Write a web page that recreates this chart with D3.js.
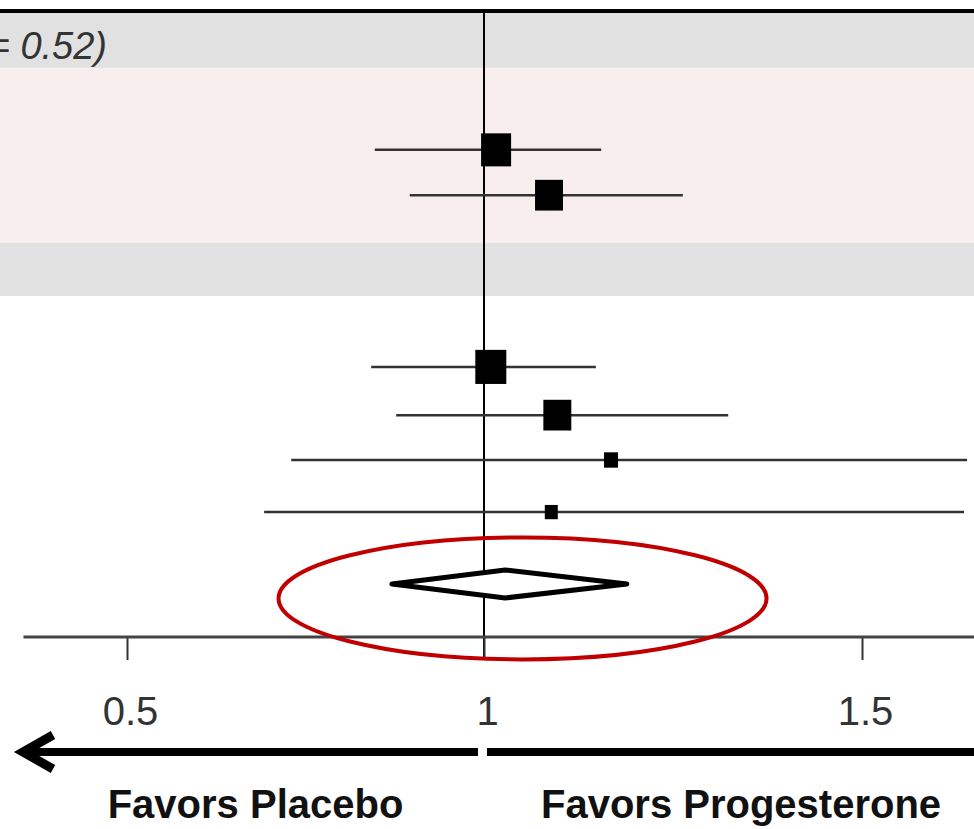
<!DOCTYPE html>
<html>
<head>
<meta charset="utf-8">
<script src="https://cdn.jsdelivr.net/npm/d3@7"></script>
<style>
  html, body { margin: 0; padding: 0; background: #fff; }
  svg { display: block; }
</style>
</head>
<body>
<svg id="chart"></svg>
<script>
const width = 974
const height = 829

// study rows (risk ratio + 95% CI)
const estimates = [1.016, 1.086, 1.009, 1.097, 1.168, 1.089]
const lower = [0.847, 0.896, 0.842, 0.877, 0.730, 0.692]
const upper = [1.155, 1.263, 1.148, 1.323, 1.639, 1.635]
const weights = [30, 26, 32, 26, 6.5, 5.6]
const rowPos = [2.9, 3.84, 7.4, 8.4, 9.33, 10.41]

// pooled estimate (diamond)
const pooled = { est: 1.028, lo: 0.871, hi: 1.189, row: 11.9 }

// shaded group bands, in row units
const bands = [
  { from: 0.06, to: 1.2, fill: "#e1e1e1" },
  { from: 1.2, to: 4.83, fill: "#f9eeee" },
  { from: 4.83, to: 5.93, fill: "#e1e1e1" }
]

const tickValues = [0.5, 1, 1.5]
const tickLabels = ["0.5", "1", "1.5"]
const heterogeneity = "(P = 0.52)"
const sideLabels = [
  { value: 0.68, text: "Favors Placebo" },
  { value: 1.34, text: "Favors Progesterone" }
]

// the picture's axis is slightly uneven, so use a piecewise scale
const x = d3.scaleLinear()
  .domain([0.5, 1, 1.5])
  .range([127, 484, 862])

const y = d3.scaleLinear()
  .domain([0, 13])
  .range([10, 637])

const size = d3.scaleSqrt()
  .domain([0, 32])
  .range([0, 31])

const svg = d3.select("#chart")
  .attr("width", width)
  .attr("height", height)
  .attr("viewBox", `0 0 ${width} ${height}`)
  .style("font-family", "'Liberation Sans', Arial, sans-serif")

svg.append("g")
  .selectAll("rect")
  .data(bands)
  .join("rect")
  .attr("x", 0)
  .attr("width", width)
  .attr("y", d => y(d.from))
  .attr("height", d => y(d.to) - y(d.from))
  .attr("fill", d => d.fill)

// top border
svg.append("line")
  .attr("x1", 0).attr("x2", width)
  .attr("y1", y(0) + 1).attr("y2", y(0) + 1)
  .attr("stroke", "#000")
  .attr("stroke-width", 4)

svg.append("text")
  .attr("x", 107)
  .attr("y", y(0.74))
  .attr("dy", "0.35em")
  .attr("text-anchor", "end")
  .attr("font-style", "italic")
  .attr("font-size", 38)
  .attr("fill", "#333")
  .text(heterogeneity)

// line of no effect
svg.append("line")
  .attr("x1", x(1)).attr("x2", x(1))
  .attr("y1", y(0)).attr("y2", y(13) + 23)
  .attr("stroke", "#000")
  .attr("stroke-width", 2)

// x axis
const xAxis = g => g
  .attr("transform", `translate(0,${y(13)})`)
  .call(d3.axisBottom(x)
    .tickValues(tickValues)
    .tickFormat((d, i) => tickLabels[i])
    .tickSize(23)
    .tickPadding(37))
  .call(g => g.select(".domain").remove())
  .call(g => g.selectAll(".tick line")
    .attr("stroke", "#333")
    .attr("stroke-width", 2))
  .call(g => g.selectAll(".tick text")
    .attr("font-size", 40)
    .attr("dx", 3)
    .attr("font-family", "'Liberation Sans', Arial, sans-serif")
    .attr("fill", "#333"))
  .call(g => g.append("line")
    .attr("x1", x(0.355))
    .attr("x2", width)
    .attr("stroke", "#444")
    .attr("stroke-width", 3))

svg.append("g").call(xAxis)

// confidence intervals
const rows = estimates.map((d, i) => ({
  est: d, lo: lower[i], hi: upper[i], w: weights[i], row: rowPos[i]
}))

svg.append("g")
  .selectAll("line")
  .data(rows)
  .join("line")
  .attr("x1", d => x(d.lo))
  .attr("x2", d => Math.min(x(d.hi), width))
  .attr("y1", d => y(d.row))
  .attr("y2", d => y(d.row))
  .attr("stroke", "#333")
  .attr("stroke-width", 2.5)

svg.append("g")
  .selectAll("rect")
  .data(rows)
  .join("rect")
  .attr("x", d => x(d.est) - size(d.w) / 2)
  .attr("y", d => y(d.row) - size(d.w) * 0.55)
  .attr("width", d => size(d.w))
  .attr("height", d => size(d.w) * 1.1)
  .attr("fill", "#000")

// pooled diamond
svg.append("path")
  .datum(pooled)
  .attr("d", d => `M${x(d.lo)},${y(d.row)}
    L${x(d.est)},${y(d.row) - 14}
    L${x(d.hi)},${y(d.row)}
    L${x(d.est)},${y(d.row) + 14}Z`)
  .attr("fill", "#fff")
  .attr("stroke", "#000")
  .attr("stroke-width", 5)
  .attr("stroke-linejoin", "round")

// red highlight ellipse
svg.append("ellipse")
  .attr("cx", x(1.051))
  .attr("cy", y(12.2))
  .attr("rx", 244)
  .attr("ry", 61)
  .attr("fill", "none")
  .attr("stroke", "#c00000")
  .attr("stroke-width", 4)

// direction arrows
const arrowY = 752
svg.append("line")
  .attr("x1", 22).attr("x2", x(1) - 6)
  .attr("y1", arrowY).attr("y2", arrowY)
  .attr("stroke", "#000")
  .attr("stroke-width", 8)

svg.append("line")
  .attr("x1", x(1) + 3).attr("x2", width)
  .attr("y1", arrowY).attr("y2", arrowY)
  .attr("stroke", "#000")
  .attr("stroke-width", 8)

svg.append("path")
  .attr("d", `M53,${arrowY - 17} L23,${arrowY} L53,${arrowY + 17}`)
  .attr("fill", "none")
  .attr("stroke", "#000")
  .attr("stroke-width", 9)
  .attr("stroke-linejoin", "miter")

svg.append("g")
  .selectAll("text")
  .data(sideLabels)
  .join("text")
  .attr("x", d => x(d.value))
  .attr("y", 818)
  .attr("text-anchor", "middle")
  .attr("font-weight", "bold")
  .attr("font-size", 40)
  .attr("fill", "#111")
  .text(d => d.text)
</script>
</body>
</html>
